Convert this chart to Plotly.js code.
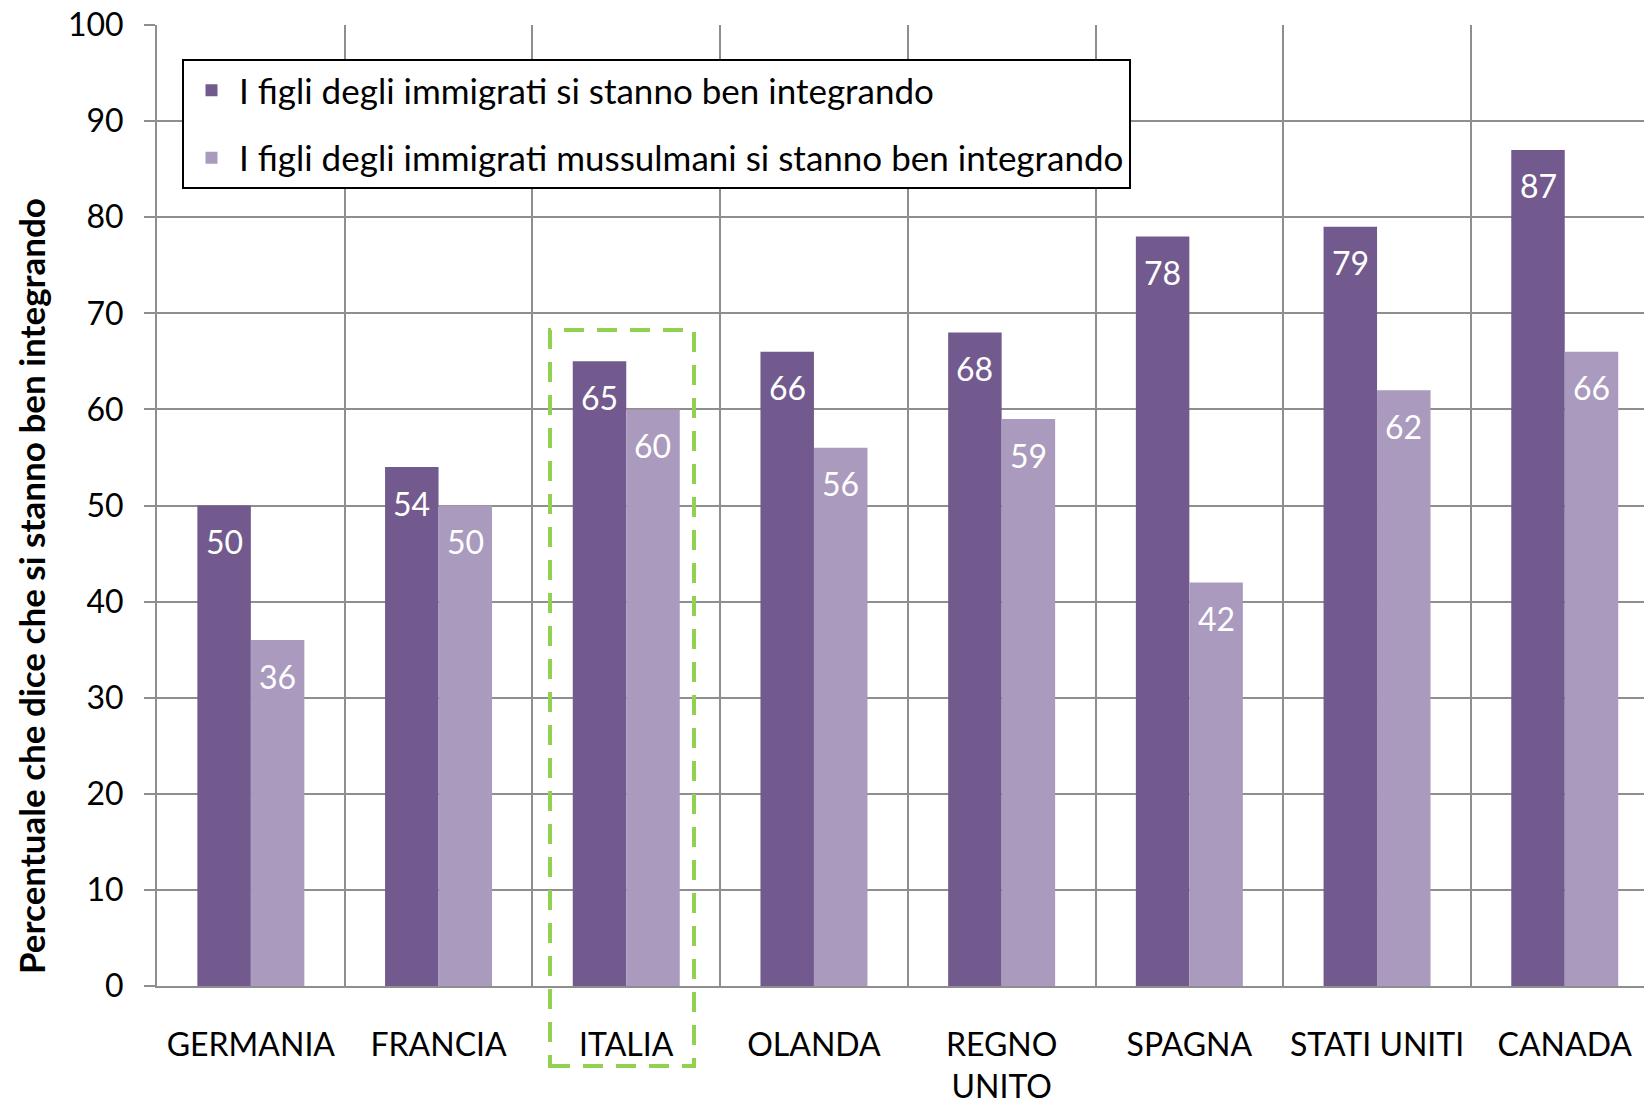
<!DOCTYPE html>
<html>
<head>
<meta charset="utf-8">
<script src="https://cdn.plot.ly/plotly-3.0.1.min.js"></script>
<style>
  html, body { margin: 0; padding: 0; background: #fff; }
  #myDiv { width: 1644px; height: 1104px; }
</style>
</head>
<body>
<div id="myDiv"></div>
<script>
// paesi e percentuali
var paesi = ['GERMANIA', 'FRANCIA', 'ITALIA', 'OLANDA', 'REGNO<br>UNITO', 'SPAGNA', 'STATI UNITI', 'CANADA'];
var immigrati = [50, 54, 65, 66, 68, 78, 79, 87];
var mussulmani = [36, 50, 60, 56, 59, 42, 62, 66];

var nome1 = 'I figli degli immigrati si stanno ben integrando';
var nome2 = 'I figli degli immigrati mussulmani si stanno ben integrando';
var titoloY = 'Percentuale che dice che si stanno ben integrando';

var scuro = '#725a8e';
var chiaro = '#a99abe';
var grigio = '#8e8e8e';
var font = 'Lato, "Open Sans", sans-serif';

var W = 1644, H = 1104;
var margL = 157, margT = 25, margB = 118;
var catPx = 187.7;          // larghezza di una categoria in px
var bargap = 0.43;
var plotW = W - margL;
var plotH = H - margT - margB;
var xmax = -0.5 + plotW / catPx;   // il grafico esce a destra come nell'originale

function loadChart() {
    var t1 = {
        x: paesi, y: immigrati, type: 'bar', name: nome1,
        marker: {color: scuro}, legendgroup: 'a', hoverinfo: 'y'
    };
    var t2 = {
        x: paesi, y: mussulmani, type: 'bar', name: nome2,
        marker: {color: chiaro}, legendgroup: 'b', hoverinfo: 'y'
    };

    // etichette bianche dentro le barre
    var barPx = catPx * (1 - bargap) / 2;
    var annotations = [];
    for (var i = 0; i < paesi.length; i++) {
        annotations.push({
            x: paesi[i], y: immigrati[i], xref: 'x', yref: 'y',
            text: String(immigrati[i]), showarrow: false,
            xshift: -barPx / 2, yshift: -36, yanchor: 'middle',
            font: {family: font, size: 32, color: '#fff'}
        });
        annotations.push({
            x: paesi[i], y: mussulmani[i], xref: 'x', yref: 'y',
            text: String(mussulmani[i]), showarrow: false,
            xshift: barPx / 2, yshift: -36, yanchor: 'middle',
            font: {family: font, size: 32, color: '#fff'}
        });
    }

    // titolo asse y (un po' sotto il centro, come nell'originale)
    annotations.push({
        xref: 'paper', yref: 'paper',
        x: (31 - margL) / plotW, y: (H - margB - 586) / plotH,
        xanchor: 'center', yanchor: 'middle', textangle: -90,
        text: '<b>' + titoloY + '</b>', showarrow: false,
        font: {family: font, size: 35, color: '#000'}
    });

    // riquadro tratteggiato verde attorno a ITALIA
    var boxL = 550, boxR = 694, boxT = 330, boxB = 1066;
    var shapes = [{
        type: 'rect', xref: 'paper', yref: 'paper',
        x0: (boxL - margL) / plotW, x1: (boxR - margL) / plotW,
        y0: (H - margB - boxB) / plotH, y1: (H - margB - boxT) / plotH,
        line: {color: '#92d050', width: 4, dash: '20px,13px'},
        fillcolor: 'rgba(0,0,0,0)', layer: 'above'
    }];

    var layout = {
        width: W, height: H,
        margin: {l: margL, r: 0, t: margT, b: margB},
        paper_bgcolor: '#fff', plot_bgcolor: '#fff',
        barmode: 'group', bargap: bargap, bargroupgap: 0,
        font: {family: font, size: 32, color: '#000'},
        showlegend: true,
        legend: {
            x: (182 - margL) / plotW, y: 1 - (59 - margT) / plotH,
            xanchor: 'left', yanchor: 'top',
            bgcolor: '#fff', bordercolor: '#000', borderwidth: 2,
            font: {family: font, size: 35, color: '#000'},
            itemwidth: 45,
            traceorder: 'grouped', tracegroupgap: 19
        },
        xaxis: {
            type: 'category', range: [-0.5, xmax],
            tickson: 'boundaries', showgrid: true,
            gridcolor: grigio, gridwidth: 2,
            ticks: '', ticklabelstandoff: 30,
            showline: true, linecolor: grigio, linewidth: 2,
            tickfont: {family: font, size: 32, color: '#000'},
            fixedrange: true
        },
        yaxis: {
            range: [0, 100], dtick: 10,
            showgrid: true, gridcolor: grigio, gridwidth: 2,
            ticks: 'outside', ticklen: 11, tickcolor: grigio, tickwidth: 2,
            ticklabelstandoff: 14,
            showline: true, linecolor: grigio, linewidth: 2,
            zeroline: false,
            tickfont: {family: font, size: 32, color: '#000'},
            fixedrange: true
        },
        annotations: annotations,
        shapes: shapes
    };

    Plotly.newPlot('myDiv', [t1, t2], layout, {displayModeBar: false, staticPlot: true});
}

loadChart();
</script>
</body>
</html>
